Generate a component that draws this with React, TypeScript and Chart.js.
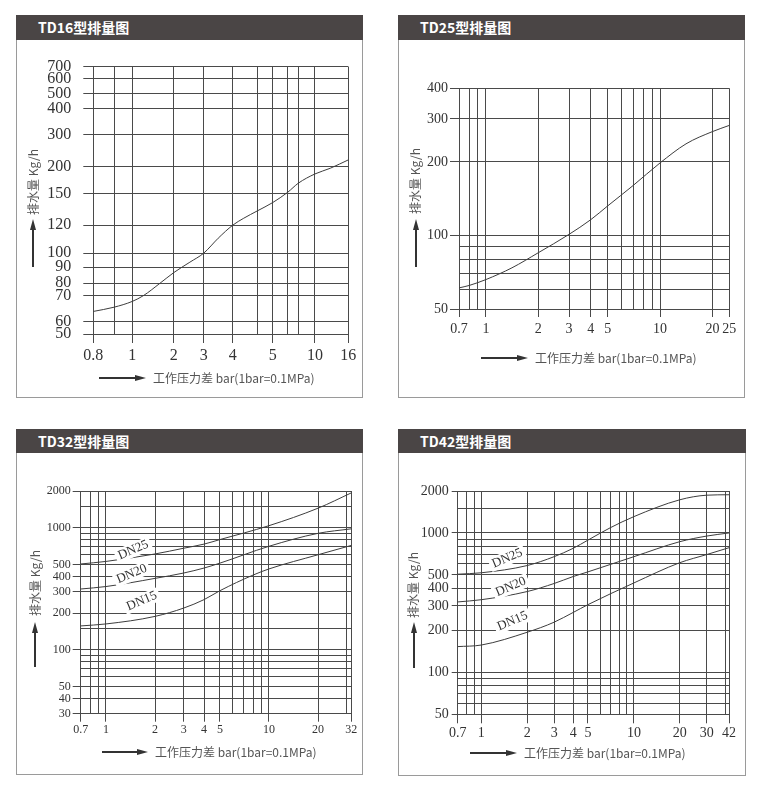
import React, { useEffect, useRef } from 'react';
import { Chart, Scale, registerables } from 'chart.js';

Chart.register(...registerables);

// scale whose grid is spaced by hand between knots (the TD16 sheet is not log spaced)
class PiecewiseScale extends Scale {
  static id = 'piecewise';
  static defaults = {};

  determineDataLimits() {
    const kv = this.options.knotValues;
    this.min = kv[0];
    this.max = kv[kv.length - 1];
  }

  buildTicks() {
    return this.options.knotValues.map((value: number) => ({ value }));
  }

  getLabelForValue(value: number) {
    return String(value);
  }

  getPixelForValue(value: number) {
    const kv = this.options.knotValues;
    const kf = this.options.knotFractions;
    let i = 0;
    while (i < kv.length - 2 && value > kv[i + 1]) i++;
    const t = (value - kv[i]) / (kv[i + 1] - kv[i]);
    return this.getPixelForDecimal(kf[i] + t * (kf[i + 1] - kf[i]));
  }

  getValueForPixel(pixel: number) {
    const kv = this.options.knotValues;
    const kf = this.options.knotFractions;
    const d = this.getDecimalForPixel(pixel);
    let i = 0;
    while (i < kf.length - 2 && d > kf[i + 1]) i++;
    const t = (d - kf[i]) / (kf[i + 1] - kf[i]);
    return kv[i] + t * (kv[i + 1] - kv[i]);
  }
}
Chart.register(PiecewiseScale);

// ---------- TD16 ----------
const td16GridX = [0.8, 0.9, 1, 2, 3, 4, 4.6, 5, 6.8, 8, 10, 16];
const td16LabelX = [0.8, 1, 2, 3, 4, 5, 10, 16];
const td16GridY = [50, 60, 70, 80, 90, 100, 120, 150, 200, 300, 400, 500, 600, 700];
const td16LabelY = td16GridY;
const td16Pressure = [0.8, 0.9, 1, 1.27, 1.67, 2, 2.54, 3, 3.5, 4, 4.27, 4.6, 5, 6.8, 8, 10, 12.75, 16];
const td16Flow = [64, 65.6, 67.8, 70, 80, 86.6, 93.6, 100, 110.7, 120, 126.7, 133.7, 141.7, 153, 169.6, 186.6, 197, 221];

// ---------- TD25 ----------
const td25GridX = [0.7, 0.8, 0.9, 1, 2, 3, 4, 5, 6, 7, 8, 9, 10, 20, 25];
const td25LabelX = [0.7, 1, 2, 3, 4, 5, 10, 20, 25];
const td25GridY = [50, 60, 70, 80, 90, 100, 200, 300, 400];
const td25LabelY = [50, 100, 200, 300, 400];
const td25Pressure = [0.7, 0.8, 1, 1.41, 2, 3, 4, 5, 7, 10, 14.1, 20, 25];
const td25Flow = [61, 62.4, 66, 73.7, 85, 101, 116, 132, 160, 198, 237, 266, 282];

// ---------- TD32 ----------
const td32GridX = [0.7, 0.8, 0.9, 1, 2, 3, 4, 5, 6, 7, 8, 9, 10, 20, 30, 32];
const td32LabelX = [0.7, 1, 2, 3, 4, 5, 10, 20, 32];
const td32GridY = [30, 40, 50, 60, 70, 80, 90, 100, 150, 200, 300, 400, 500, 600, 700, 800, 900, 1000, 1500, 2000];
const td32LabelY = [30, 40, 50, 100, 200, 300, 400, 500, 1000, 2000];
const td32Pressure = [0.7, 1, 2, 3, 4, 5, 10, 20, 32];
const td32DN25 = [505, 530, 610, 680, 735, 800, 1040, 1446, 1930];
const td32DN20 = [315, 330, 385, 426, 468, 513, 705, 900, 980];
const td32PressureDN15 = [0.7, 1, 2, 3, 4, 5, 8, 10, 20, 32];
const td32DN15 = [157, 163, 188, 220, 258, 305, 410, 460, 601, 717];

// ---------- TD42 ----------
const td42GridX = [0.7, 0.8, 0.9, 1, 2, 3, 4, 5, 6, 7, 8, 9, 10, 20, 30, 40, 42];
const td42LabelX = [0.7, 1, 2, 3, 4, 5, 10, 20, 30, 42];
const td42GridY = [50, 60, 70, 80, 90, 100, 200, 300, 400, 500, 600, 700, 800, 900, 1000, 1500, 2000];
const td42LabelY = [50, 100, 200, 300, 400, 500, 1000, 2000];
const td42PressureDN25 = [0.7, 1, 2, 3, 4, 5, 7, 10, 20, 30, 42];
const td42DN25 = [506, 518, 584, 676, 776, 889, 1090, 1310, 1730, 1866, 1880];
const td42Pressure = [0.7, 1, 2, 3, 4, 5, 10, 20, 30, 42];
const td42DN20 = [320, 332, 380, 434, 487, 526, 676, 866, 950, 1000];
const td42DN15 = [153, 157, 194, 229, 269, 306, 438, 612, 700, 784];

const seriesNames = ['DN25', 'DN20', 'DN15'];
// label anchors in data units (pressure, flow)
const td32NameX = [1.47, 1.44, 1.66];
const td32NameY = [657, 418, 251];
const td42NameX = [1.48, 1.56, 1.6];
const td42NameY = [658, 411, 233];

const yTitle = '排水量 Kg/h';
const xTitle = '工作压力差 bar(1bar=0.1MPa)';

const zip = (xs: number[], ys: number[]) => xs.map((x, i) => ({ x, y: ys[i] }));

type Spec = {
  title: string;
  box: number[]; // left, top, width, height
  header: number;
  plot: number[]; // left, top, right, bottom
  xType: string;
  yType: string;
  xMin?: number; xMax?: number; yMin?: number; yMax?: number;
  xKnots?: number[]; yKnots?: number[];
  gridX: number[]; labelX: number[]; gridY: number[]; labelY: number[];
  series: { x: number; y: number }[][];
  names?: { text: string; x: number; y: number }[];
  xFont: number; yFont: number;
  xTick: number; yTick: number; xPad: number; yPad: number;
  yTitlePos: number[]; // cx, cy
  yArrow: number[]; // x, top, bottom
  xArrow: number[]; // left, right, y
};

const specs: Spec[] = [
  {
    title: 'TD16型排量图',
    box: [16, 15, 347, 383], header: 25,
    plot: [93.3, 66.7, 348.3, 334],
    xType: 'piecewise', yType: 'piecewise',
    xKnots: [0, 0.0812, 0.1529, 0.3153, 0.4329, 0.5467, 0.6431, 0.7035, 0.7624, 0.8039, 0.8694, 1],
    yKnots: [0, 0.0449, 0.1437, 0.19, 0.2499, 0.3023, 0.407, 0.5241, 0.6262, 0.746, 0.8441, 0.899, 0.954, 1],
    gridX: td16GridX, labelX: td16LabelX, gridY: td16GridY, labelY: td16LabelY,
    series: [zip(td16Pressure, td16Flow)],
    xFont: 16, yFont: 16, xTick: 9, yTick: 10, xPad: 3, yPad: 12,
    yTitlePos: [33, 182], yArrow: [33, 219, 267], xArrow: [99, 146, 378],
  },
  {
    title: 'TD25型排量图',
    box: [398, 15, 347, 383], header: 25,
    plot: [459, 88.3, 729.3, 309],
    xType: 'logarithmic', yType: 'logarithmic',
    xMin: 0.7, xMax: 25, yMin: 50, yMax: 400,
    gridX: td25GridX, labelX: td25LabelX, gridY: td25GridY, labelY: td25LabelY,
    series: [zip(td25Pressure, td25Flow)],
    xFont: 14, yFont: 14, xTick: 8, yTick: 9, xPad: 4, yPad: 2,
    yTitlePos: [415, 181], yArrow: [416, 219, 267], xArrow: [481, 528, 358],
  },
  {
    title: 'TD32型排量图',
    box: [16, 429, 347, 346], header: 24,
    plot: [80.7, 491, 351.3, 713.7],
    xType: 'logarithmic', yType: 'logarithmic',
    xMin: 0.7, xMax: 32, yMin: 30, yMax: 2000,
    gridX: td32GridX, labelX: td32LabelX, gridY: td32GridY, labelY: td32LabelY,
    series: [zip(td32Pressure, td32DN25), zip(td32Pressure, td32DN20), zip(td32PressureDN15, td32DN15)],
    names: seriesNames.map((text, i) => ({ text, x: td32NameX[i], y: td32NameY[i] })),
    xFont: 12, yFont: 12, xTick: 8, yTick: 8, xPad: 1, yPad: 2,
    yTitlePos: [35, 583], yArrow: [35, 622, 667], xArrow: [102, 148, 752],
  },
  {
    title: 'TD42型排量图',
    box: [398, 429, 348, 347], header: 24,
    plot: [457.7, 491, 729, 714.3],
    xType: 'logarithmic', yType: 'logarithmic',
    xMin: 0.7, xMax: 42, yMin: 50, yMax: 2000,
    gridX: td42GridX, labelX: td42LabelX, gridY: td42GridY, labelY: td42LabelY,
    series: [zip(td42PressureDN25, td42DN25), zip(td42Pressure, td42DN20), zip(td42Pressure, td42DN15)],
    names: seriesNames.map((text, i) => ({ text, x: td42NameX[i], y: td42NameY[i] })),
    xFont: 14, yFont: 14, xTick: 9, yTick: 6, xPad: 2, yPad: 3,
    yTitlePos: [413, 585], yArrow: [414, 622, 668], xArrow: [470, 517, 753],
  },
];

const SERIF = '"Liberation Serif", "Times New Roman", serif';
const SANS = '"Noto Sans CJK SC", "Noto Sans", sans-serif';

function axisOptions(spec: Spec, axis: 'x' | 'y', extent: number) {
  const isX = axis === 'x';
  const grid = isX ? spec.gridX : spec.gridY;
  const labels = isX ? spec.labelX : spec.labelY;
  const type = isX ? spec.xType : spec.yType;
  const base: any = {
    type,
    position: isX ? 'bottom' : 'left',
    bounds: 'data',
    afterBuildTicks: (s: any) => {
      s.ticks = grid.map((value) => ({ value }));
    },
    afterFit: (s: any) => {
      if (isX) s.height = extent;
      else s.width = extent;
    },
    border: { display: false },
    grid: {
      color: '#4a4a4a',
      lineWidth: 1,
      tickLength: isX ? spec.xTick : spec.yTick,
      tickColor: (c: any) => (c.tick && labels.includes(c.tick.value) ? '#4a4a4a' : 'rgba(0,0,0,0)'),
    },
    ticks: {
      autoSkip: false,
      maxRotation: 0,
      minRotation: 0,
      padding: isX ? spec.xPad : spec.yPad,
      color: '#333',
      font: { family: SERIF, size: isX ? spec.xFont : spec.yFont },
      callback: (v: number) => (labels.includes(v) ? String(v) : ''),
    },
  };
  if (type === 'piecewise') {
    base.knotValues = grid;
    base.knotFractions = isX ? spec.xKnots : spec.yKnots;
  } else {
    base.min = isX ? spec.xMin : spec.yMin;
    base.max = isX ? spec.xMax : spec.yMax;
  }
  return base;
}

const PanelChart: React.FC<{ spec: Spec }> = ({ spec }) => {
  const canvasRef = useRef<HTMLCanvasElement>(null);
  const [bx, by, bw, bh] = spec.box;
  const canvasTop = by + spec.header;
  const canvasH = bh - spec.header;

  useEffect(() => {
    if (!canvasRef.current) return;
    const ctx = canvasRef.current.getContext('2d');
    if (!ctx) return;
    const [pl, pt, pr, pb] = spec.plot;

    const chart = new Chart(ctx, {
      type: 'line',
      data: {
        datasets: spec.series.map((data) => ({
          data,
          borderColor: '#3d3d3d',
          borderWidth: 1,
          pointRadius: 0,
          fill: false,
          cubicInterpolationMode: 'monotone' as const,
        })),
      },
      options: {
        animation: false,
        responsive: true,
        maintainAspectRatio: false,
        events: [],
        layout: { padding: { left: 0, top: pt - canvasTop, right: bx + bw - pr, bottom: 0 } },
        plugins: { legend: { display: false }, tooltip: { enabled: false } },
        scales: {
          x: axisOptions(spec, 'x', canvasTop + canvasH - pb),
          y: axisOptions(spec, 'y', pl - bx),
        },
      } as any,
      plugins: [
        {
          id: 'curveNames',
          afterDatasetsDraw(c: any) {
            if (!spec.names) return;
            const g = c.ctx;
            spec.names.forEach((n) => {
              const px = c.scales.x.getPixelForValue(n.x);
              const py = c.scales.y.getPixelForValue(n.y);
              g.save();
              g.translate(px, py);
              g.rotate((-23 * Math.PI) / 180);
              g.font = `13px ${SERIF}`;
              const w = g.measureText(n.text).width;
              g.fillStyle = '#fff';
              g.fillRect(-w / 2 - 3, -7, w + 6, 14);
              g.fillStyle = '#333';
              g.textAlign = 'center';
              g.textBaseline = 'middle';
              g.fillText(n.text, 0, 0);
              g.restore();
            });
          },
        },
      ],
    });
    return () => chart.destroy();
  }, [spec]);

  const [tcx, tcy] = spec.yTitlePos;
  const [ax, aTop, aBottom] = spec.yArrow;
  const [hx1, hx2, hy] = spec.xArrow;

  return (
    <>
      <div
        style={{
          position: 'absolute', left: bx, top: by, width: bw, height: bh,
          boxSizing: 'border-box', border: '1px solid #9a9a9a', background: '#fff',
        }}
      />
      <div
        style={{
          position: 'absolute', left: bx, top: by, width: bw, height: spec.header,
          background: '#4a4545', color: '#fff', fontFamily: SANS, fontWeight: 700,
          fontSize: 14, lineHeight: `${spec.header}px`, paddingLeft: 22, boxSizing: 'border-box',
        }}
      >
        {spec.title}
      </div>
      <div style={{ position: 'absolute', left: bx, top: canvasTop, width: bw, height: canvasH }}>
        <canvas ref={canvasRef}></canvas>
      </div>
      <div
        style={{
          position: 'absolute', left: tcx, top: tcy, transform: 'translate(-50%, -50%) rotate(-90deg)',
          whiteSpace: 'nowrap', fontFamily: SANS, fontSize: 12, color: '#555', lineHeight: '14px',
        }}
      >
        {yTitle}
      </div>
      <div style={{ position: 'absolute', left: ax - 1, top: aTop + 8, width: 2, height: aBottom - aTop - 8, background: '#333' }} />
      <div
        style={{
          position: 'absolute', left: ax - 3.5, top: aTop, width: 0, height: 0,
          borderLeft: '3.5px solid transparent', borderRight: '3.5px solid transparent', borderBottom: '11px solid #333',
        }}
      />
      <div style={{ position: 'absolute', left: hx1, top: hy - 1, width: hx2 - hx1 - 8, height: 2, background: '#333' }} />
      <div
        style={{
          position: 'absolute', left: hx2 - 11, top: hy - 3, width: 0, height: 0,
          borderTop: '3px solid transparent', borderBottom: '3px solid transparent', borderLeft: '11px solid #333',
        }}
      />
      <div
        style={{
          position: 'absolute', left: hx2 + 7, top: hy - 8, whiteSpace: 'nowrap',
          fontFamily: SANS, fontSize: 12, color: '#555', lineHeight: '16px',
        }}
      >
        {xTitle}
      </div>
    </>
  );
};

export default function App() {
  return (
    <div style={{ position: 'absolute', left: 0, top: 0, width: 767, height: 793, background: '#fff' }}>
      {specs.map((s) => (
        <PanelChart key={s.title} spec={s} />
      ))}
    </div>
  );
}
